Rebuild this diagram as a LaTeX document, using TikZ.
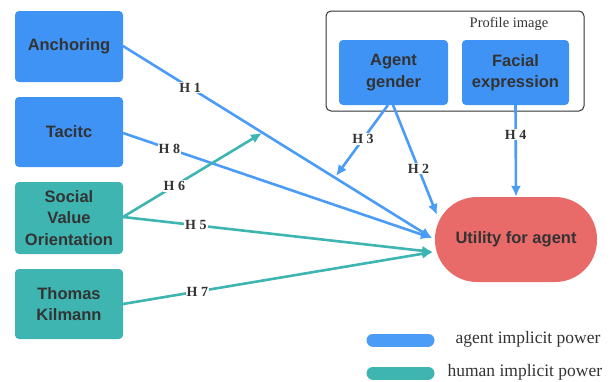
\documentclass[tikz,border=0pt]{standalone}
\usepackage{fontspec}
\setmainfont{Liberation Serif}
\newfontfamily\boxfont{Liberation Sans}
\usetikzlibrary{arrows.meta,calc}
\definecolor{agentblue}{HTML}{3F93F5}
\definecolor{arrowblue}{HTML}{4A9CF7}
\definecolor{humanteal}{HTML}{3EB5B1}
\definecolor{utilred}{HTML}{E96B69}
\definecolor{inktext}{HTML}{333333}
\tikzset{
  factor/.style={rectangle, rounded corners=4pt, minimum width=108pt, inner sep=0pt,
    text=inktext, font=\boxfont\bfseries\fontsize{16.5}{21.5}\selectfont, align=center},
  agentbox/.style={factor, fill=agentblue},
  humanbox/.style={factor, fill=humanteal},
  link/.style={line width=2.6pt, -{Latex[length=11pt,width=10pt]}},
  agentlink/.style={link, draw=arrowblue},
  humanlink/.style={link, draw=humanteal},
  hyp/.style={fill=white, inner sep=1pt, text=inktext, font=\bfseries\fontsize{14}{14}\selectfont},
  legendbar/.style={line width=13pt, line cap=round},
  legendtext/.style={anchor=west, text=inktext, font=\fontsize{17.5}{17.5}\selectfont},
}
\begin{document}
\begin{tikzpicture}[x=1pt, y=-1pt]
\useasboundingbox (0,0) rectangle (615,381);

% predictor boxes on the left
\node[agentbox, minimum height=71pt] (anch) at (69,46.5) {Anchoring};
\node[agentbox, minimum height=70pt] (tac) at (69,132) {Tacitc};
\node[humanbox, minimum height=72pt] (svo) at (69,218) {Social\\Value\\Orientation};
\node[humanbox, minimum height=70pt] (tk) at (69,304) {Thomas\\Kilmann};

% profile image group
\node[draw=black!80, line width=1pt, rounded corners=5pt, minimum width=258pt, minimum height=100pt] (prof) at (455,61) {};
\node[text=inktext, font=\fontsize{14.5}{14.5}\selectfont] (proftitle) at (509,23.5) {Profile image};
\node[agentbox, minimum width=109pt, minimum height=65pt] (ag) at (393.5,72.5) {Agent\\gender};
\node[agentbox, minimum width=107pt, minimum height=65pt] (fe) at (515.5,72.5) {Facial\\expression};

% outcome
\node[fill=utilred, rounded corners=42pt, minimum width=162pt, minimum height=85pt, inner sep=0pt,
      text=inktext, font=\boxfont\bfseries\fontsize{16.5}{20}\selectfont] (util) at (516,239.5) {Utility for agent};

% anchor points for connectors
\coordinate (ablue) at (432,238);
\coordinate (ateal) at (433,252);
\coordinate (h6end) at (262,133);
\coordinate (h3end) at (336,176);
\coordinate (h2end) at (437,215);
\coordinate (agout) at (393,105);
\coordinate (agout3) at (388,105);
\coordinate (anchout) at (123,46);
\coordinate (tacout) at (123,133);
\coordinate (svoout) at (123,217);
\coordinate (tkout) at (123,304);

% hypotheses
\draw[agentlink] (anchout) -- node[hyp, pos=0.217] {H 1} (ablue);
\draw[agentlink] (tacout) -- node[hyp, pos=0.15] {H 8} (ablue);
\draw[humanlink] (svoout) -- node[hyp, pos=0.37] {H 6} (h6end);
\draw[humanlink] (svoout) -- node[hyp, pos=0.235] {H 5} (ateal);
\draw[humanlink] (tkout) -- node[hyp, pos=0.24] {H 7} (ateal);
\draw[agentlink] (agout3) -- node[hyp, pos=0.48] {H 3} (h3end);
\draw[agentlink] (agout) -- node[hyp, pos=0.58] {H 2} (h2end);
\draw[agentlink] (fe.south) -- node[hyp, pos=0.32] {H 4} (util.north);

% legend
\coordinate (lb1) at (373,340);
\coordinate (lb2) at (428,340);
\coordinate (lt1) at (373,373);
\coordinate (lt2) at (428,373);
\draw[legendbar, arrowblue] (lb1) -- (lb2);
\draw[legendbar, humanteal] (lt1) -- (lt2);
\node[legendtext] (lga) at (452,339) {agent implicit power};
\node[legendtext] (lgh) at (444,372) {human implicit power};
\end{tikzpicture}
\end{document}
